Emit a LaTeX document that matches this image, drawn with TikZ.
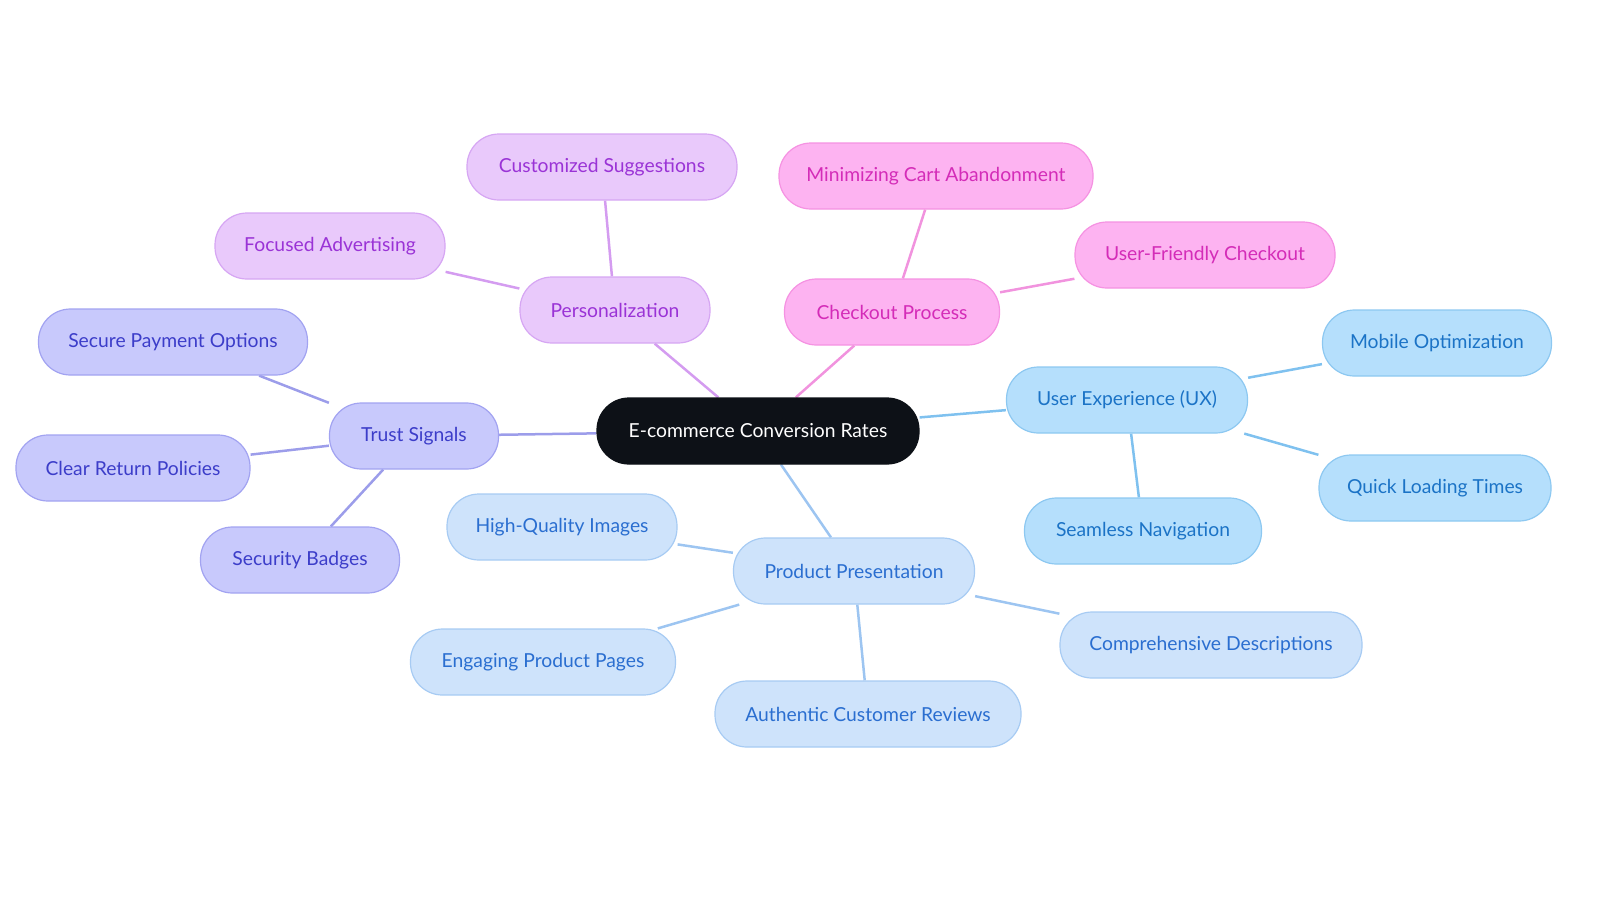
\documentclass[tikz,border=0pt]{standalone}
\usepackage{fontspec}
\setmainfont{Lato}
\usetikzlibrary{backgrounds}
\definecolor{cdark}{HTML}{0D1117}
\definecolor{pfill}{HTML}{E9C9FB}\definecolor{pdraw}{HTML}{D6A6F3}\definecolor{ptext}{HTML}{9A33D6}\definecolor{pline}{HTML}{D49CF0}
\definecolor{kfill}{HTML}{FDB3F1}\definecolor{kdraw}{HTML}{F592E2}\definecolor{ktext}{HTML}{D42CB8}\definecolor{kline}{HTML}{F193DE}
\definecolor{ifill}{HTML}{C8C9FC}\definecolor{idraw}{HTML}{A2A3F1}\definecolor{itext}{HTML}{3C3DC9}\definecolor{iline}{HTML}{9C9DEA}
\definecolor{ufill}{HTML}{B5DFFC}\definecolor{udraw}{HTML}{8DC8F1}\definecolor{utext}{HTML}{1B73C6}\definecolor{uline}{HTML}{7FC1EF}
\definecolor{bfill}{HTML}{CEE3FB}\definecolor{bdraw}{HTML}{A7CBF3}\definecolor{btext}{HTML}{2A6ED0}\definecolor{bline}{HTML}{9DC5F1}
\tikzset{
  pill/.style={rectangle, rounded corners=32pt, minimum height=66pt, line width=1.2pt, font=\fontsize{19.3}{21}\selectfont, inner sep=0pt},
  cnode/.style={pill, fill=cdark, draw=cdark, text=white},
  pnode/.style={pill, fill=pfill, draw=pdraw, text=ptext},
  knode/.style={pill, fill=kfill, draw=kdraw, text=ktext},
  inode/.style={pill, fill=ifill, draw=idraw, text=itext},
  unode/.style={pill, fill=ufill, draw=udraw, text=utext},
  bnode/.style={pill, fill=bfill, draw=bdraw, text=btext},
  link/.style={line width=2.5pt},
}
\begin{document}
\begin{tikzpicture}[x=1pt,y=-1pt]
\useasboundingbox (0,0) rectangle (1600,903);
\node[cnode, minimum width=322pt] (c) at (758,431) {E-commerce Conversion Rates};
\node[pnode, minimum width=190pt] (pers) at (615,310) {Personalization};
\node[pnode, minimum width=270pt] (cs) at (602,167) {Customized Suggestions};
\node[pnode, minimum width=230pt] (fa) at (330,246) {Focused Advertising};
\node[knode, minimum width=215pt] (chk) at (892,312) {Checkout Process};
\node[knode, minimum width=314pt] (mca) at (936,176) {Minimizing Cart Abandonment};
\node[knode, minimum width=260pt] (ufc) at (1205,255) {User-Friendly Checkout};
\node[inode, minimum width=169pt] (ts) at (414,436) {Trust Signals};
\node[inode, minimum width=269pt] (spo) at (173,342) {Secure Payment Options};
\node[inode, minimum width=234pt] (crp) at (133,468) {Clear Return Policies};
\node[inode, minimum width=199pt] (sb) at (300,560) {Security Badges};
\node[unode, minimum width=241pt] (ux) at (1127,400) {User Experience (UX)};
\node[unode, minimum width=229pt] (mo) at (1437,343) {Mobile Optimization};
\node[unode, minimum width=232pt] (qlt) at (1435,488) {Quick Loading Times};
\node[unode, minimum width=237pt] (sn) at (1143,531) {Seamless Navigation};
\node[bnode, minimum width=241pt] (pp) at (854,571) {Product Presentation};
\node[bnode, minimum width=230pt] (hqi) at (562,527) {High-Quality Images};
\node[bnode, minimum width=265pt] (epp) at (543,662) {Engaging Product Pages};
\node[bnode, minimum width=306pt] (acr) at (868,714) {Authentic Customer Reviews};
\node[bnode, minimum width=302pt] (cd) at (1211,645) {Comprehensive Descriptions};
\begin{scope}[on background layer]
\draw[link, pline] (c) -- (pers);
\draw[link, pline] (pers) -- (cs);
\draw[link, pline] (pers) -- (fa);
\draw[link, kline] (c) -- (chk);
\draw[link, kline] (chk) -- (mca);
\draw[link, kline] (chk) -- (ufc);
\draw[link, iline] (c) -- (ts);
\draw[link, iline] (ts) -- (spo);
\draw[link, iline] (ts) -- (crp);
\draw[link, iline] (ts) -- (sb);
\draw[link, uline] (c) -- (ux);
\draw[link, uline] (ux) -- (mo);
\draw[link, uline] (ux) -- (qlt);
\draw[link, uline] (ux) -- (sn);
\draw[link, bline] (c) -- (pp);
\draw[link, bline] (pp) -- (hqi);
\draw[link, bline] (pp) -- (epp);
\draw[link, bline] (pp) -- (acr);
\draw[link, bline] (pp) -- (cd);
\end{scope}
\end{tikzpicture}
\end{document}
